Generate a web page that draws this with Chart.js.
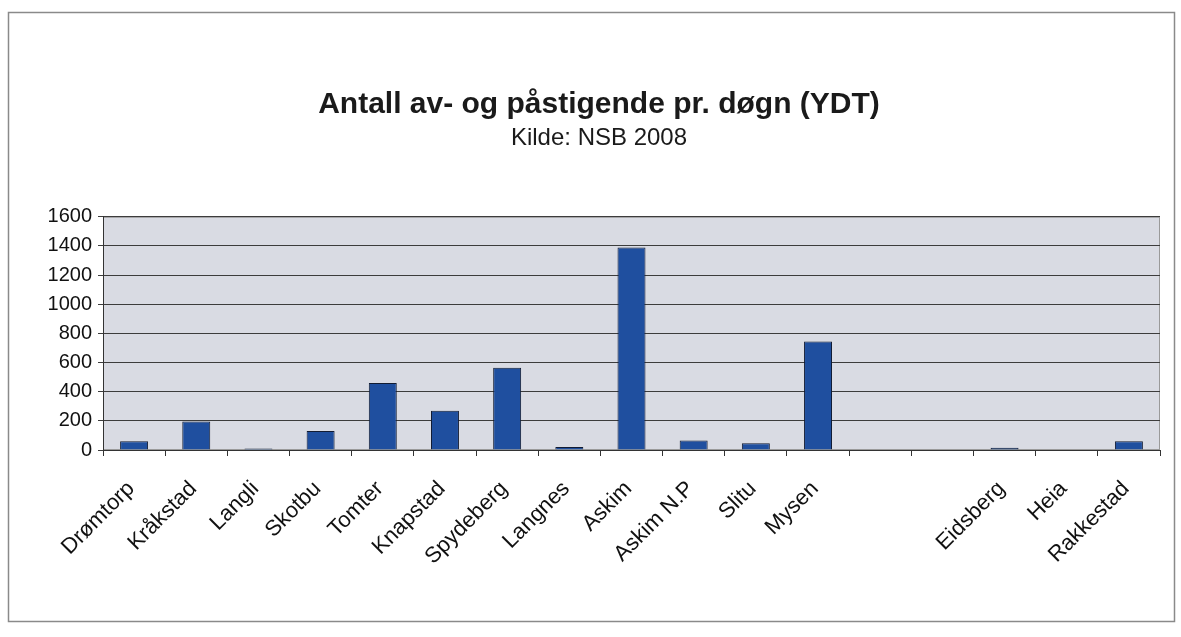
<!DOCTYPE html>
<html>
<head>
<meta charset="utf-8">
<script src="https://cdn.jsdelivr.net/npm/chart.js@4/dist/chart.umd.min.js"></script>
<style>
  html, body { margin: 0; padding: 0; background: #ffffff; }
  #wrap { width: 1181px; height: 637px; position: relative; }
</style>
</head>
<body>
<div id="wrap"><canvas id="c" width="1181" height="637"></canvas></div>
<script>
// Categories (stations); two empty slots as in the original chart
const stations = ['Drømtorp', 'Kråkstad', 'Langli', 'Skotbu', 'Tomter', 'Knapstad', 'Spydeberg', 'Langnes', 'Askim', 'Askim N.P', 'Slitu', 'Mysen', '', '', 'Eidsberg', 'Heia', 'Rakkestad'];
// Daily boardings + alightings (YDT)
const passengers = [60, 195, 10, 130, 460, 270, 565, 20, 1390, 65, 46, 745, null, null, 15, 0, 60];
// Y axis ticks
const yTicks = [0, 200, 400, 600, 800, 1000, 1200, 1400, 1600];

const titleText = 'Antall av- og påstigende pr. døgn (YDT)';
const subtitleText = 'Kilde: NSB 2008';

const framePlugin = {
  id: 'framePlugin',
  beforeDraw(chart) {
    const ctx = chart.ctx;
    ctx.save();
    ctx.fillStyle = '#ffffff';
    ctx.fillRect(0, 0, chart.width, chart.height);
    ctx.strokeStyle = '#8a8a8a';
    ctx.lineWidth = 1.5;
    ctx.strokeRect(8.5, 12.5, 1166, 609);
    const a = chart.chartArea;
    ctx.fillStyle = '#d9dbe3';
    ctx.fillRect(a.left, a.top, a.right - a.left, a.bottom - a.top);
    ctx.strokeStyle = '#9a9a9a';
    ctx.lineWidth = 1;
    ctx.strokeRect(a.left + 0.5, a.top + 0.5, a.right - a.left - 1, a.bottom - a.top - 1);
    ctx.restore();
  }
};

new Chart(document.getElementById('c'), {
  type: 'bar',
  data: {
    labels: stations,
    datasets: [{
      data: passengers,
      backgroundColor: '#1f4f9f',
      borderColor: '#121c33',
      borderWidth: 1,
      borderSkipped: 'bottom',
      categoryPercentage: 1.0,
      barPercentage: 0.45
    }]
  },
  options: {
    responsive: false,
    animation: false,
    devicePixelRatio: 1,
    layout: { padding: { left: 38, right: 21, top: 0, bottom: 0 } },
    plugins: {
      legend: { display: false },
      tooltip: { enabled: false },
      title: {
        display: true,
        text: titleText,
        color: '#1a1a1a',
        font: { family: '"Liberation Sans", Arial, sans-serif', size: 30, weight: 'bold' },
        padding: { top: 87, bottom: 0 }
      },
      subtitle: {
        display: true,
        text: subtitleText,
        color: '#1a1a1a',
        font: { family: '"Liberation Sans", Arial, sans-serif', size: 24, weight: 'normal' },
        padding: { top: 1, bottom: 64 }
      }
    },
    scales: {
      x: {
        offset: true,
        grid: {
          offset: true,
          drawOnChartArea: false,
          drawTicks: true,
          tickLength: 6,
          color: '#333333'
        },
        border: { display: true, color: '#333333', width: 1 },
        ticks: {
          autoSkip: false,
          maxRotation: 45,
          minRotation: 45,
          padding: 20,
          labelOffset: -3,
          color: '#111111',
          font: { family: '"Liberation Sans", Arial, sans-serif', size: 22 }
        },
        afterFit(scale) { scale.height = 187; }
      },
      y: {
        min: 0,
        max: 1600,
        afterBuildTicks(scale) { scale.ticks = yTicks.map(v => ({ value: v })); },
        grid: {
          color: '#3c3c3c',
          lineWidth: 1,
          drawTicks: true,
          tickLength: 5
        },
        border: { display: true, color: '#333333', width: 1 },
        ticks: {
          padding: 6,
          color: '#111111',
          font: { family: '"Liberation Sans", Arial, sans-serif', size: 20 },
          callback: (v) => String(v)
        },
        afterFit(scale) { scale.width = 65; }
      }
    }
  },
  plugins: [framePlugin]
});
</script>
</body>
</html>
